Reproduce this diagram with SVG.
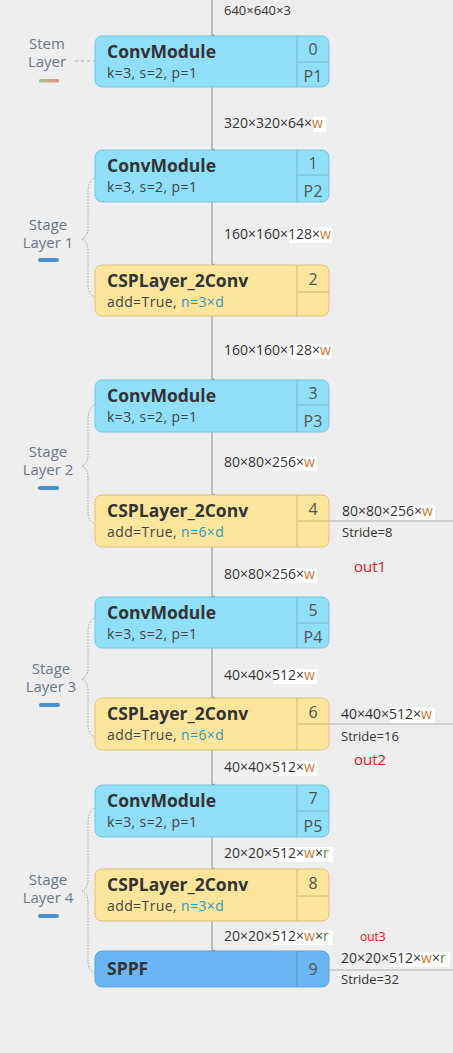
<svg xmlns="http://www.w3.org/2000/svg" width="453" height="1053" viewBox="0 0 453 1053">
<style>
text{font-family:"Open Sans","Noto Sans","Liberation Sans",sans-serif}
.conv{fill:#8fdff9;stroke:#78c3de;stroke-width:1}
.csp{fill:#fde59b;stroke:#dcc27c;stroke-width:1}
.sppf{fill:#6ab6f4;stroke:#5aa0d8;stroke-width:1}
.dc{stroke:#7ab8cf;stroke-width:1}
.dy{stroke:#cdb676;stroke-width:1}
.ds{stroke:#5596cc;stroke-width:1}
.title{font-size:17.5px;font-weight:bold;fill:#333}
.sub{font-size:14px;fill:#444;letter-spacing:0.4px}
.idx{font-size:16px;fill:#555;text-anchor:middle}
.tl{font-size:14px;fill:#333}
.st{font-size:13px;fill:#333}
.w{fill:#cc7a2c}
.r{fill:#5b8a2d}
.n{fill:#2b9ac3}
.lab{font-size:15px;fill:#6b7888;text-anchor:middle}
.hl{fill:#ffffff}
.bar{fill:#4b8fc4}
.main{stroke:#8a8a8a;stroke-width:1;fill:none}
.out{stroke:#b0b0b0;stroke-width:1;fill:none}
.brace{stroke:#a0a0a0;stroke-width:1;fill:none;stroke-dasharray:1.5 1.5}
.red{font-size:15px;fill:#e8141a}
</style>
<defs>
<linearGradient id="stemg" x1="0" x2="1" y1="0" y2="0">
<stop offset="0" stop-color="#98c98e"/>
<stop offset="1" stop-color="#e88f8f"/>
</linearGradient>
<marker id="dot" viewBox="0 0 4 4" refX="2" refY="3" markerWidth="4" markerHeight="4" orient="auto">
<path d="M0.5,0.5 L3.5,0.5 L2,3.5 z" fill="#666"/>
</marker>
</defs>
<rect width="453" height="1053" fill="#eeeeee"/>

<g id="connectors">
<line class="main" x1="212" y1="0" x2="212" y2="36" marker-end="url(#dot)"/>
<line class="main" x1="212" y1="87" x2="212" y2="150" marker-end="url(#dot)"/>
<line class="main" x1="212" y1="202" x2="212" y2="265" marker-end="url(#dot)"/>
<line class="main" x1="212" y1="316" x2="212" y2="380" marker-end="url(#dot)"/>
<line class="main" x1="212" y1="432" x2="212" y2="495" marker-end="url(#dot)"/>
<line class="main" x1="212" y1="547" x2="212" y2="597" marker-end="url(#dot)"/>
<line class="main" x1="212" y1="648" x2="212" y2="698" marker-end="url(#dot)"/>
<line class="main" x1="212" y1="750" x2="212" y2="785" marker-end="url(#dot)"/>
<line class="main" x1="212" y1="837" x2="212" y2="869" marker-end="url(#dot)"/>
<line class="main" x1="212" y1="921" x2="212" y2="951" marker-end="url(#dot)"/>
<line class="out" x1="329" y1="521" x2="453" y2="521"/>
<line class="out" x1="329" y1="724" x2="453" y2="724"/>
<line class="out" x1="329" y1="970" x2="453" y2="970"/>
<line x1="75" y1="61" x2="95" y2="61" stroke="#aaa" stroke-width="1" stroke-dasharray="3 3"/>
<path class="brace" d="M95,178 C89,180 88,186 88,196 L88,228 C88,234 86,237 82,239 C86,241 88,244 88,250 L88,284 C88,292 90,295 95,297"/>
<path class="brace" d="M95,405 C89,407 88,413 88,423 L88,455 C88,461 86,464 82,466 C86,468 88,471 88,477 L88,511 C88,519 90,522 95,524"/>
<path class="brace" d="M95,618 C89,620 88,626 88,636 L88,668 C88,674 86,677 82,679 C86,681 88,684 88,690 L88,724 C88,732 90,735 95,737"/>
<path class="brace" d="M95,808 C89,810 88,816 88,826 L88,880 C88,886 86,889 82,891 C86,893 88,896 88,902 L88,960 C88,968 90,971 95,973"/>
</g>

<g id="edge-labels">
<text class="tl" x="224" y="15" style="font-size:13px">640×640×3</text>
<rect class="hl" x="313" y="117" width="13" height="15"/>
<text class="tl" x="224" y="128">320×320×64×<tspan class="w">w</tspan></text>
<rect class="hl" x="289" y="228" width="43" height="15"/>
<text class="tl" x="224" y="239">160×160×128×<tspan class="w">w</tspan></text>
<rect class="hl" x="289" y="344" width="43" height="15"/>
<text class="tl" x="224" y="355">160×160×128×<tspan class="w">w</tspan></text>
<rect class="hl" x="273" y="456" width="44" height="15"/>
<text class="tl" x="224" y="467">80×80×256×<tspan class="w">w</tspan></text>
<rect class="hl" x="273" y="568" width="44" height="15"/>
<text class="tl" x="224" y="579">80×80×256×<tspan class="w">w</tspan></text>
<rect class="hl" x="273" y="669" width="44" height="15"/>
<text class="tl" x="224" y="680">40×40×512×<tspan class="w">w</tspan></text>
<rect class="hl" x="273" y="761" width="44" height="15"/>
<text class="tl" x="224" y="772">40×40×512×<tspan class="w">w</tspan></text>
<rect class="hl" x="273" y="847" width="60" height="15"/>
<text class="tl" x="224" y="858">20×20×512×<tspan class="w">w</tspan>×<tspan class="r">r</tspan></text>
<rect class="hl" x="273" y="930" width="60" height="15"/>
<text class="tl" x="224" y="941">20×20×512×<tspan class="w">w</tspan>×<tspan class="r">r</tspan></text>

<rect class="hl" x="390" y="505" width="45" height="15"/>
<text class="tl" x="342" y="516">80×80×256×<tspan class="w">w</tspan></text>
<text class="st" x="342" y="537">Stride=8</text>
<text class="red" x="354" y="572">out1</text>
<rect class="hl" x="390" y="708" width="45" height="15"/>
<text class="tl" x="341" y="719">40×40×512×<tspan class="w">w</tspan></text>
<text class="st" x="341" y="741">Stride=16</text>
<text class="red" x="354" y="765">out2</text>
<rect class="hl" x="390" y="952" width="60" height="15"/>
<text class="tl" x="341" y="963">20×20×512×<tspan class="w">w</tspan>×<tspan class="r">r</tspan></text>
<text class="st" x="341" y="984">Stride=32</text>
<text class="red" x="360" y="941" style="font-size:12px">out3</text>
</g>

<g id="stem-layer">
<text class="lab" x="47" y="49">Stem</text>
<text class="lab" x="47" y="67">Layer</text>
<rect x="39" y="79" width="20" height="3.5" rx="1.5" fill="url(#stemg)"/>
</g>
<g id="stage-layer-1">
<text class="lab" x="48" y="230">Stage</text>
<text class="lab" x="48" y="248">Layer 1</text>
<rect class="bar" x="38" y="258" width="21" height="4" rx="2"/>
</g>
<g id="stage-layer-2">
<text class="lab" x="48" y="457">Stage</text>
<text class="lab" x="48" y="475">Layer 2</text>
<rect class="bar" x="38" y="486" width="21" height="4" rx="2"/>
</g>
<g id="stage-layer-3">
<text class="lab" x="51" y="674">Stage</text>
<text class="lab" x="51" y="692">Layer 3</text>
<rect class="bar" x="39" y="703" width="21" height="4" rx="2"/>
</g>
<g id="stage-layer-4">
<text class="lab" x="48" y="885">Stage</text>
<text class="lab" x="48" y="903">Layer 4</text>
<rect class="bar" x="38" y="914" width="21" height="4" rx="2"/>
</g>

<g id="node-0">
<rect class="conv" x="95" y="36" width="234" height="51" rx="7"/>
<line class="dc" x1="297" y1="36" x2="297" y2="87"/>
<line class="dc" x1="297" y1="62" x2="329" y2="62"/>
<text class="title" x="107" y="58">ConvModule</text>
<text class="sub" x="107" y="78">k=3, s=2, p=1</text>
<text class="idx" x="313" y="55">0</text>
<text class="idx" x="313" y="82">P1</text>
</g>
<g id="node-1">
<rect class="conv" x="95" y="150" width="234" height="52" rx="7"/>
<line class="dc" x1="297" y1="150" x2="297" y2="202"/>
<line class="dc" x1="297" y1="175" x2="329" y2="175"/>
<text class="title" x="107" y="172">ConvModule</text>
<text class="sub" x="107" y="192">k=3, s=2, p=1</text>
<text class="idx" x="313" y="169">1</text>
<text class="idx" x="313" y="197">P2</text>
</g>
<g id="node-2">
<rect class="csp" x="95" y="265" width="234" height="51" rx="7"/>
<line class="dy" x1="297" y1="265" x2="297" y2="316"/>
<line class="dy" x1="297" y1="292" x2="329" y2="292"/>
<text class="title" x="107" y="287">CSPLayer_2Conv</text>
<text class="sub" x="107" y="307">add=True, <tspan class="n">n=3×d</tspan></text>
<text class="idx" x="313" y="285">2</text>
</g>
<g id="node-3">
<rect class="conv" x="95" y="380" width="234" height="52" rx="7"/>
<line class="dc" x1="297" y1="380" x2="297" y2="432"/>
<line class="dc" x1="297" y1="405" x2="329" y2="405"/>
<text class="title" x="107" y="402">ConvModule</text>
<text class="sub" x="107" y="422">k=3, s=2, p=1</text>
<text class="idx" x="313" y="399">3</text>
<text class="idx" x="313" y="427">P3</text>
</g>
<g id="node-4">
<rect class="csp" x="95" y="495" width="234" height="52" rx="7"/>
<line class="dy" x1="297" y1="495" x2="297" y2="547"/>
<line class="dy" x1="297" y1="521" x2="329" y2="521"/>
<text class="title" x="107" y="517">CSPLayer_2Conv</text>
<text class="sub" x="107" y="537">add=True, <tspan class="n">n=6×d</tspan></text>
<text class="idx" x="313" y="515">4</text>
</g>
<g id="node-5">
<rect class="conv" x="95" y="597" width="234" height="51" rx="7"/>
<line class="dc" x1="297" y1="597" x2="297" y2="648"/>
<line class="dc" x1="297" y1="623" x2="329" y2="623"/>
<text class="title" x="107" y="619">ConvModule</text>
<text class="sub" x="107" y="639">k=3, s=2, p=1</text>
<text class="idx" x="313" y="616">5</text>
<text class="idx" x="313" y="643">P4</text>
</g>
<g id="node-6">
<rect class="csp" x="95" y="698" width="234" height="52" rx="7"/>
<line class="dy" x1="297" y1="698" x2="297" y2="750"/>
<line class="dy" x1="297" y1="724" x2="329" y2="724"/>
<text class="title" x="107" y="720">CSPLayer_2Conv</text>
<text class="sub" x="107" y="740">add=True, <tspan class="n">n=6×d</tspan></text>
<text class="idx" x="313" y="718">6</text>
</g>
<g id="node-7">
<rect class="conv" x="95" y="785" width="234" height="52" rx="7"/>
<line class="dc" x1="297" y1="785" x2="297" y2="837"/>
<line class="dc" x1="297" y1="811" x2="329" y2="811"/>
<text class="title" x="107" y="807">ConvModule</text>
<text class="sub" x="107" y="827">k=3, s=2, p=1</text>
<text class="idx" x="313" y="804">7</text>
<text class="idx" x="313" y="832">P5</text>
</g>
<g id="node-8">
<rect class="csp" x="95" y="869" width="234" height="52" rx="7"/>
<line class="dy" x1="297" y1="869" x2="297" y2="921"/>
<line class="dy" x1="297" y1="896" x2="329" y2="896"/>
<text class="title" x="107" y="891">CSPLayer_2Conv</text>
<text class="sub" x="107" y="911">add=True, <tspan class="n">n=3×d</tspan></text>
<text class="idx" x="313" y="889">8</text>
</g>
<g id="node-9">
<rect class="sppf" x="95" y="951" width="234" height="36" rx="7"/>
<line class="ds" x1="297" y1="951" x2="297" y2="987"/>
<text class="title" x="107" y="975">SPPF</text>
<text class="idx" x="313" y="975">9</text>
</g>
</svg>
